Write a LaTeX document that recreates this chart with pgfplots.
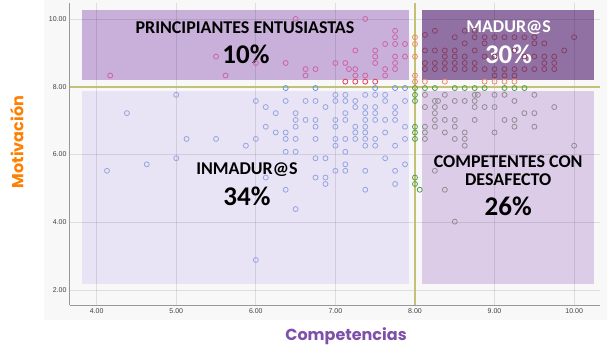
\documentclass[border=0pt]{standalone}
\usepackage{fontspec}
\setmainfont{Liberation Sans}
\newfontfamily\calibri{Carlito}
\newfontfamily\gothic{Poppins}
\usepackage{pgfplots}
\pgfplotsset{compat=1.18}
\definecolor{panelgray}{RGB}{248,248,248}
\definecolor{boxA}{RGB}{200,176,218}
\definecolor{boxB}{RGB}{145,113,163}
\definecolor{boxC}{RGB}{232,228,245}
\definecolor{boxD}{RGB}{220,204,232}
\definecolor{olive}{RGB}{196,192,120}
\definecolor{pinkc}{RGB}{205,100,165}
\definecolor{redc}{RGB}{225,60,90}
\definecolor{darkredc}{RGB}{135,62,100}
\definecolor{orangec}{RGB}{240,140,100}
\definecolor{blueS}{RGB}{100,150,230}
\definecolor{blueL}{RGB}{150,165,225}
\definecolor{greenc}{RGB}{80,160,70}
\definecolor{grayc}{RGB}{145,140,148}
\definecolor{labOrange}{RGB}{255,128,0}
\definecolor{labPurple}{RGB}{125,80,170}
\pgfplotsset{pt/.style={only marks, mark=o, mark size=2.5pt, mark options={line width=0.8pt}}}
\begin{document}
\begin{tikzpicture}[x=1pt,y=1pt]
\path (-70,-51) rectangle (537,305);
\fill[panelgray] (-26,-15) rectangle (537,305);
\begin{axis}[
  at={(0,0)}, anchor=south west,
  scale only axis, width=530pt, height=302pt,
  xmin=3.665, xmax=10.325, ymin=1.56, ymax=10.47,
  axis x line*=bottom, axis y line*=left,
  axis line style={-, draw=black!40, line width=1pt},
  xtick={4,5,6,7,8,9,10}, ytick={2,4,6,8,10},
  major tick length=0pt,
  tick label style={font=\fontsize{7}{8}\selectfont, text=black!75},
  /pgf/number format/fixed,
  /pgf/number format/fixed zerofill,
  /pgf/number format/precision=2,
  /pgf/number format/assume math mode=true,
  clip=false,
]
\fill[boxA] (axis cs:3.815,8.2) rectangle (axis cs:7.92,10.27);
\fill[boxB] (axis cs:8.087,8.2) rectangle (axis cs:10.25,10.27);
\fill[boxC] (axis cs:3.815,2.18) rectangle (axis cs:7.92,7.88);
\fill[boxD] (axis cs:8.087,2.18) rectangle (axis cs:10.25,7.88);
\pgfplotsinvokeforeach{4,5,6,7,9,10}{
  \draw[black, opacity=0.1, line width=0.8pt] (axis cs:#1,1.56) -- (axis cs:#1,10.47);
}
\pgfplotsinvokeforeach{2,4,6,10}{
  \draw[black, opacity=0.1, line width=0.8pt] (axis cs:3.665,#1) -- (axis cs:10.325,#1);
}
\addplot[olive, line width=2.6pt] coordinates {(8,1.56) (8,10.47)};
\addplot[olive, line width=2pt] coordinates {(3.665,8) (10.325,8)};

% pink (upper left)
\addplot[pt, pinkc] coordinates {
(4.17,8.33)(5.5,8.89)(5.62,8.33)(6.0,8.70)(6.375,8.70)(6.5,10.0)(7.375,10.0)
(7.75,9.65)(7.75,9.46)(7.75,9.26)(7.625,9.26)(7.875,9.26)(7.25,9.07)
(7.5,9.07)(7.5,8.89)(7.5,8.70)(7.75,8.89)(7.75,8.70)(7.75,8.52)(7.875,8.89)
(7.0,8.70)(7.125,8.70)(6.625,8.52)(6.625,8.33)(6.75,8.52)(7.17,8.52)
(7.25,8.52)(7.25,8.33)(7.375,8.33)(7.625,8.52)(7.625,8.33)
};
% red row
\addplot[pt, redc] coordinates {(7.125,8.15)(7.25,8.15)(7.375,8.15)(7.5,8.15)};
% orange
\addplot[pt, orangec] coordinates {
(8,9.46)(8,9.26)(8,8.89)(8,8.33)(8,8.15)
(8.125,8.15)(8.375,8.15)(8.875,8.15)(9.0,8.15)(9.125,8.15)(9.25,8.15)
};
% madur@s
\addplot[pt, darkredc] coordinates {
(8.25,9.65)(8.125,9.53)(8.5,9.46)(8.625,9.28)(8.75,9.46)(8.875,9.46)(8.875,9.28)
(9.0,9.46)(9.125,9.46)(9.25,9.46)(9.375,9.46)(9.5,9.46)(9.5,9.28)(9.625,9.28)
(9.875,9.07)(10.0,9.46)(8.625,9.65)(8.75,9.65)
(8.125,9.07)(8.25,9.07)(8.375,9.07)(8.375,8.89)(8.5,9.07)(8.5,8.89)(8.625,8.89)
(8.625,8.70)(8.75,9.07)(8.875,8.89)(9.0,8.89)(9.25,9.07)(9.375,8.89)(9.5,8.89)
(9.625,8.89)(9.75,8.89)(9.75,8.70)(9.75,8.52)
(8.125,8.70)(8.25,8.70)(8.375,8.70)(8.5,8.70)(8.75,8.70)(9.625,8.70)
(8.125,8.52)(8.25,8.52)(8.375,8.52)(8.5,8.52)(8.625,8.52)(8.75,8.52)(8.875,8.52)
(9.0,8.52)(9.125,8.52)(9.25,8.52)(9.375,8.52)(9.5,8.52)(9.625,8.52)
(9.0,8.33)(9.125,8.33)(9.25,8.33)
};
% blue row on line
\addplot[pt, blueS] coordinates {(6.375,7.96)(6.75,7.96)(7.5,7.96)(7.75,7.96)(7.875,7.96)};
% blue lower left
\addplot[pt, blueL] coordinates {
(5.0,7.76)(4.38,7.22)(6.25,7.22)(5.13,6.46)(5.5,6.46)(5.0,5.89)(4.63,5.71)(4.13,5.52)
(7.0,7.76)(7.125,7.76)(7.375,7.76)(7.5,7.76)(7.625,7.76)
(6.0,7.58)(6.375,7.58)(6.625,7.58)(6.75,7.58)(7.0,7.58)(7.125,7.58)(7.25,7.58)(7.625,7.58)(7.875,7.58)
(6.125,7.40)(6.875,7.40)(7.25,7.40)(7.375,7.40)(7.5,7.40)(7.75,7.40)
(6.5,7.22)(7.125,7.22)(7.375,7.22)(7.5,7.22)(7.75,7.22)
(6.5,7.02)(6.625,7.02)(6.75,7.02)(7.0,7.02)(7.125,7.02)(7.375,7.02)(7.5,7.02)(7.625,7.02)(7.75,7.02)
(6.125,6.82)(6.5,6.82)(6.75,6.82)(7.0,6.82)(7.25,6.82)(7.375,6.82)(7.875,6.82)
(6.25,6.65)(6.375,6.65)(7.25,6.65)(7.375,6.65)(7.625,6.65)
(6.0,6.46)(6.375,6.46)(6.5,6.46)(6.75,6.46)(7.0,6.46)(7.125,6.46)(7.25,6.46)(7.375,6.46)(7.5,6.46)(7.875,6.46)
(5.875,6.26)(7.0,6.26)(7.375,6.26)(7.5,6.26)(7.75,6.26)
(6.375,6.08)(6.5,6.08)(7.125,6.08)
(6.75,5.89)(6.875,5.89)(7.625,5.89)
(7.125,5.71)(7.875,5.71)
(7.0,5.52)(7.125,5.52)(7.375,5.52)(7.75,5.52)
(6.125,5.32)(6.75,5.32)(6.875,5.32)
(6.875,5.13)(7.75,5.13)
(6.375,4.96)(7.375,4.96)
(6.5,4.39)(6.0,2.89)
};
% green
\addplot[pt, greenc] coordinates {
(8,7.76)(8,7.58)(8,6.82)(8,6.65)(8,6.46)(8,5.32)(8,5.13)(8.06,4.96)
(8.0,7.96)(8.125,7.96)(8.25,7.96)(8.5,7.96)(8.625,7.96)(8.75,7.96)(8.875,7.96)(9.125,7.96)(9.25,7.96)(9.375,7.96)
};
% gray lower right
\addplot[pt, grayc] coordinates {
(8.125,7.76)(8.375,7.76)(8.75,7.76)(8.79,7.76)(9.0,7.76)(9.125,7.76)(9.5,7.76)
(8.25,7.58)(8.29,7.58)(8.5,7.58)(8.625,7.58)(8.75,7.58)(9.25,7.58)
(8.125,7.40)(8.25,7.40)(8.375,7.40)(8.75,7.40)(8.875,7.40)(9.0,7.40)(9.75,7.40)
(8.25,7.22)(9.375,7.22)(9.5,7.22)
(8.25,7.02)(8.375,7.02)(8.5,7.02)(8.75,7.02)(9.125,7.02)(9.25,7.02)
(8.125,6.82)(8.25,6.82)(8.5,6.82)(9.25,6.82)(9.5,6.82)
(8.125,6.65)(8.375,6.65)(8.625,6.65)(9.0,6.65)
(8.125,6.46)(8.5,6.46)(8.625,6.46)
(8.625,6.26)(10.0,6.26)
(8.25,5.52)(8.375,4.96)(8.5,4.02)
};

\node[font=\calibri\bfseries\fontsize{18}{20}\selectfont] at (axis cs:5.863,9.75) {PRINCIPIANTES ENTUSIASTAS};
\node[font=\calibri\bfseries\fontsize{27}{30}\selectfont] at (axis cs:5.876,8.953) {10\%};
\node[font=\calibri\bfseries\fontsize{18}{20}\selectfont, text=white] at (axis cs:9.176,9.735) {MADUR@S};
\node[font=\calibri\bfseries\fontsize{27}{30}\selectfont, text=white] at (axis cs:9.176,8.968) {30\%};
\node[font=\calibri\bfseries\fontsize{18}{20}\selectfont] at (axis cs:5.888,5.546) {INMADUR@S};
\node[font=\calibri\bfseries\fontsize{27}{30}\selectfont] at (axis cs:5.888,4.764) {34\%};
\node[font=\calibri\bfseries\fontsize{18}{20}\selectfont] at (axis cs:9.171,5.796) {COMPETENTES CON};
\node[font=\calibri\bfseries\fontsize{18}{20}\selectfont] at (axis cs:9.171,5.265) {DESAFECTO};
\node[font=\calibri\bfseries\fontsize{27}{30}\selectfont] at (axis cs:9.171,4.484) {26\%};
\end{axis}
\node[font=\gothic\bfseries\fontsize{16}{18}\selectfont, text=labPurple] at (276,-31) {Competencias};
\node[font=\gothic\bfseries\fontsize{16}{18}\selectfont, text=labOrange, rotate=90] at (-53.3,163) {Motivación};
\end{tikzpicture}
\end{document}
